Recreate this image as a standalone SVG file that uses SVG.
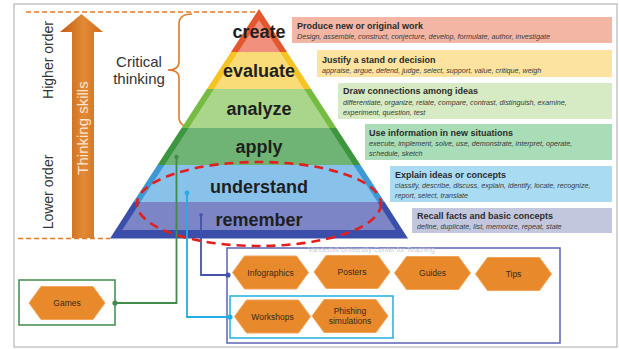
<svg xmlns="http://www.w3.org/2000/svg" xmlns:xlink="http://www.w3.org/1999/xlink" width="619" height="349" viewBox="0 0 619 349">
<defs>
<style>
.lvl{font-family:"Liberation Sans",Arial,sans-serif;font-weight:bold;font-size:18px;fill:#1f1f1f;text-anchor:middle}
.t{font-family:"Liberation Sans",Arial,sans-serif;font-weight:bold;font-size:9px;fill:#2b2b2b}
.s{font-family:"Liberation Sans",Arial,sans-serif;font-style:italic;font-size:7.2px;fill:#3a3a3a}
.side{font-family:"Liberation Sans",Arial,sans-serif;font-size:14px;fill:#333}
.ct{font-family:"Liberation Sans",Arial,sans-serif;font-size:15px;fill:#333;text-anchor:middle}
.hex{fill:#E8892B;stroke:#F2A45A;stroke-width:1}
.hx{font-family:"Liberation Sans",Arial,sans-serif;font-size:8.5px;fill:#3a2a1a;text-anchor:middle}
.dash{stroke:#E07B2A;stroke-width:1.6;stroke-dasharray:5 3;fill:none}
.conn{fill:none;stroke-width:1.8}
</style>
<linearGradient id="ag" x1="0" y1="0" x2="1" y2="0">
<stop offset="0" stop-color="#C25E10"/>
<stop offset="0.55" stop-color="#E38A36"/>
<stop offset="1" stop-color="#CD6A1A"/>
</linearGradient>
<polygon id="hexshape" points="-38,0 -26,-16.5 26,-16.5 38,0 26,16.5 -26,16.5"/>
</defs>

<rect x="14" y="4" width="603" height="343" fill="#fff" stroke="#a8a8a8" stroke-width="1"/>

<!-- dashed guides -->
<line class="dash" x1="26" y1="12" x2="257" y2="12"/>
<line class="dash" x1="18" y1="238.5" x2="110" y2="238.5"/>

<!-- big arrow -->
<g id="thinking-arrow">
<polygon points="60,32 81.5,14 103,32 94,32 94,238 72,238 72,32" fill="url(#ag)"/>
<text x="0" y="0" transform="translate(88,128) rotate(-90)" style="font-family:'Liberation Sans',Arial,sans-serif;font-size:15px;fill:#F7E7D2;text-anchor:middle">Thinking skills</text>
</g>
<text class="side" transform="translate(53,60) rotate(-90)" text-anchor="middle">Higher order</text>
<text class="side" transform="translate(53,192) rotate(-90)" text-anchor="middle">Lower order</text>

<!-- critical thinking brace -->
<g id="critical-thinking">
<path d="M192,14 Q179,14 179,24 L179,62 Q179,70 168,70 Q179,70 179,78 L179,117 Q179,127 192,127" fill="none" stroke="#E07B2A" stroke-width="1.6"/>
<text class="ct" x="139" y="67">Critical</text>
<text class="ct" x="139" y="84">thinking</text>
</g>

<!-- pyramid -->
<g id="pyramid">
<g id="create">
<polygon points="259,9 287,52 231,52" fill="#E4572E"/>
<polygon points="259,20 280,52 238,52" fill="#F1907C"/>
<text class="lvl" x="259" y="38">create</text>
</g>
<g id="evaluate">
<polygon points="231,52 287,52 311.1,89 206.9,89" fill="#F6C324"/>
<polygon points="238,52 280,52 304.1,89 213.9,89" fill="#F9DB78"/>
<text class="lvl" x="259" y="77">evaluate</text>
</g>
<g id="analyze">
<polygon points="206.9,89 311.1,89 336.4,128 181.6,128" fill="#76BC43"/>
<polygon points="213.9,89 304.1,89 329.4,128 188.6,128" fill="#A9D68A"/>
<text class="lvl" x="259" y="115">analyze</text>
</g>
<g id="apply">
<polygon points="181.6,128 336.4,128 360.5,165 157.5,165" fill="#3C963F"/>
<polygon points="188.6,128 329.4,128 353.5,165 164.5,165" fill="#6FB375"/>
<text class="lvl" x="259" y="153">apply</text>
</g>
<g id="understand">
<polygon points="157.5,165 360.5,165 384.6,202 133.4,202" fill="#3E98D4"/>
<polygon points="164.5,165 353.5,165 377.6,202 140.4,202" fill="#88C2EA"/>
<text class="lvl" x="259" y="193">understand</text>
</g>
<g id="remember">
<polygon points="133.4,202 384.6,202 408,238.5 110,238.5" fill="#3B4FAA"/>
<polygon points="140.4,202 377.6,202 395.8,230 122.2,230" fill="#7C86C6"/>
<text class="lvl" x="259" y="226">remember</text>
</g>
</g>

<!-- description boxes -->
<g id="desc-create">
<rect x="292" y="17" width="320" height="26" fill="#F3B6A5"/>
<text class="t" x="297" y="29">Produce new or original work</text>
<text class="s" x="297" y="39">Design, assemble, construct, conjecture, develop, formulate, author, investigate</text>
</g>
<g id="desc-evaluate">
<rect x="317" y="50" width="295" height="27" fill="#FCE3A0"/>
<text class="t" x="322" y="63">Justify a stand or decision</text>
<text class="s" x="322" y="73">appraise, argue, defend, judge, select, support, value, critique, weigh</text>
</g>
<g id="desc-analyze">
<rect x="338" y="83" width="274" height="36" fill="#D6EBC4"/>
<text class="t" x="343" y="94">Draw connections among ideas</text>
<text class="s" x="343" y="105">differentiate, organize, relate, compare, contrast, distinguish, examine,</text>
<text class="s" x="343" y="114.5">experiment, question, test</text>
</g>
<g id="desc-apply">
<rect x="365" y="124" width="247" height="36" fill="#A8DDB7"/>
<text class="t" x="369" y="136">Use information in new situations</text>
<text class="s" x="369" y="146">execute, implement, solve, use, demonstrate, interpret, operate,</text>
<text class="s" x="369" y="155.5">schedule, sketch</text>
</g>
<g id="desc-understand">
<rect x="390" y="166" width="222" height="36" fill="#A9DCF3"/>
<text class="t" x="395" y="178">Explain ideas or concepts</text>
<text class="s" x="395" y="188">classify, describe, discuss, explain, identify, locate, recognize,</text>
<text class="s" x="395" y="197.5">report, select, translate</text>
</g>
<g id="desc-remember">
<rect x="412" y="208" width="200" height="25" fill="#C3C7DE"/>
<text class="t" x="417" y="219">Recall facts and basic concepts</text>
<text class="s" x="417" y="229">define, duplicate, list, memorize, repeat, state</text>
</g>

<!-- containers -->
<g id="games-box">
<rect x="19" y="280" width="96" height="45" fill="none" stroke="#3F8C4C" stroke-width="1.5"/>
</g>
<g id="materials-box">
<rect x="227" y="248" width="333" height="95" fill="none" stroke="#5B63B5" stroke-width="1.5"/>
</g>
<g id="training-box">
<rect x="230" y="296" width="163" height="42" fill="none" stroke="#22AEE2" stroke-width="1.5"/>
</g>
<text x="308" y="252" style="font-family:'Liberation Sans',Arial,sans-serif;font-size:7px;fill:#C9CBD8">Vanderbilt University Center for Teaching</text>

<!-- connectors -->
<g id="connectors">
<polyline class="conn" points="176.5,157 176.5,303 115,303" stroke="#3F8C4C"/>
<circle cx="176.5" cy="157" r="2.2" fill="#3F8C4C"/>
<circle cx="115" cy="303" r="2.6" fill="#3F8C4C"/>
<polyline class="conn" points="187,193 187,317 230,317" stroke="#22AEE2"/>
<circle cx="187" cy="193" r="2.4" fill="#22AEE2"/>
<circle cx="230" cy="317" r="2.6" fill="#22AEE2"/>
<polyline class="conn" points="201,215 201,275 228,275" stroke="#4352AA"/>
<circle cx="201" cy="215" r="1.8" fill="#4352AA"/>
<circle cx="228" cy="275" r="2.6" fill="#4352AA"/>
</g>

<!-- red dashed ellipse -->
<ellipse cx="259" cy="204" rx="122" ry="42" fill="none" stroke="#E0201F" stroke-width="2.6" stroke-dasharray="9 6"/>

<!-- hexagon nodes -->
<g id="games"><use href="#hexshape" xlink:href="#hexshape" x="67" y="303" class="hex"/><text class="hx" x="67" y="306">Games</text></g>
<g id="infographics"><use href="#hexshape" xlink:href="#hexshape" x="270.5" y="272.5" class="hex"/><text class="hx" x="270.5" y="275.5">Infographics</text></g>
<g id="posters"><use href="#hexshape" xlink:href="#hexshape" x="352" y="272" class="hex"/><text class="hx" x="352" y="275">Posters</text></g>
<g id="guides"><use href="#hexshape" xlink:href="#hexshape" x="432.5" y="273" class="hex"/><text class="hx" x="432.5" y="276">Guides</text></g>
<g id="tips"><use href="#hexshape" xlink:href="#hexshape" x="513.5" y="274" class="hex"/><text class="hx" x="513.5" y="277">Tips</text></g>
<g id="workshops"><use href="#hexshape" xlink:href="#hexshape" x="272.5" y="316.5" class="hex"/><text class="hx" x="272.5" y="319.5">Workshops</text></g>
<g id="phishing"><use href="#hexshape" xlink:href="#hexshape" x="350" y="316" class="hex"/><text class="hx" x="350" y="314">Phishing</text><text class="hx" x="350" y="324">simulations</text></g>
</svg>
